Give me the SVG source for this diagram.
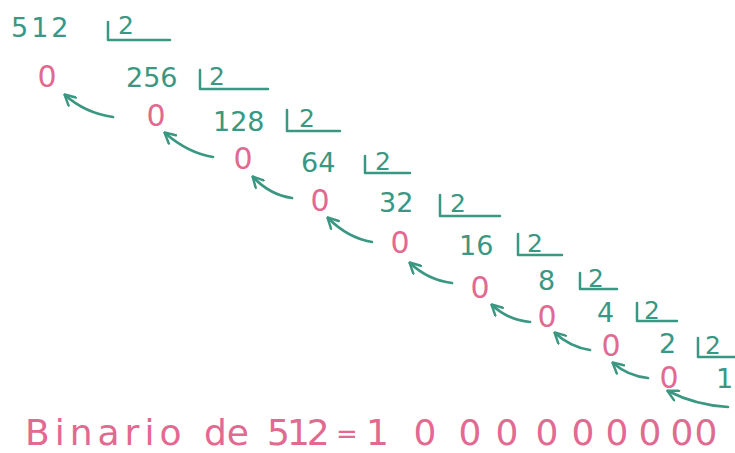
<svg xmlns="http://www.w3.org/2000/svg" width="735" height="453" viewBox="0 0 735 453">
<style>
.num{font-family:"DejaVu Sans","Liberation Sans",sans-serif;font-size:27px;fill:#3a9782}
.div{font-family:"DejaVu Sans","Liberation Sans",sans-serif;font-size:25px;fill:#3a9782}
.rem{font-family:"DejaVu Sans","Liberation Sans",sans-serif;font-size:30px;fill:#e2698f;text-anchor:middle}
.res{font-family:"DejaVu Sans","Liberation Sans",sans-serif;font-size:36px;fill:#e2698f}
.eq{font-family:"DejaVu Sans","Liberation Sans",sans-serif;font-size:26px;fill:#e2698f}
.br{fill:none;stroke:#3a9782;stroke-width:2.5;stroke-linecap:round;stroke-linejoin:round}
.arr{fill:none;stroke:#3a9782;stroke-width:2.7;stroke-linecap:round}
</style>
<defs>
<marker id="ah" viewBox="0 0 10 10" refX="8.5" refY="5" markerWidth="13" markerHeight="13" markerUnits="userSpaceOnUse" orient="auto">
<path d="M1,0.8 L9,5 L1,9.2" fill="none" stroke="#3a9782" stroke-width="1.9" stroke-linecap="round" stroke-linejoin="round"/>
</marker>
</defs>
<rect width="735" height="453" fill="#ffffff"/>

<g id="row-512"><text class="num" x="11" y="37" letter-spacing="3">512</text><path class="br" d="M108,22 L108,40 L170,40"/><text class="div" x="118" y="34">2</text></g>
<g id="row-256"><text class="num" x="126" y="87">256</text><path class="br" d="M200,70 L200,89 L268,89"/><text class="div" x="209" y="85">2</text></g>
<g id="row-128"><text class="num" x="213" y="131">128</text><path class="br" d="M287,110 L287,131 L340,131"/><text class="div" x="299" y="127">2</text></g>
<g id="row-64"><text class="num" x="301" y="172">64</text><path class="br" d="M365,156 L365,173 L410,173"/><text class="div" x="375" y="170">2</text></g>
<g id="row-32"><text class="num" x="379" y="212">32</text><path class="br" d="M440,195 L440,216 L500,216"/><text class="div" x="450" y="212">2</text></g>
<g id="row-16"><text class="num" x="459" y="255">16</text><path class="br" d="M518,234 L518,255 L562,255"/><text class="div" x="527" y="252">2</text></g>
<g id="row-8"><text class="num" x="538" y="290">8</text><path class="br" d="M580,273 L580,289 L617,289"/><text class="div" x="588" y="287">2</text></g>
<g id="row-4"><text class="num" x="597" y="322">4</text><path class="br" d="M637,303 L637,321 L677,321"/><text class="div" x="644" y="319">2</text></g>
<g id="row-2"><text class="num" x="659" y="353">2</text><path class="br" d="M698,338 L698,357 L737,357"/><text class="div" x="705" y="354">2</text></g>
<g id="row-1"><text class="num" x="716" y="388">1</text></g>

<g id="r1"><text class="rem" x="47" y="87">0</text></g>
<g id="r2"><text class="rem" x="156" y="126">0</text></g>
<g id="r3"><text class="rem" x="243" y="169">0</text></g>
<g id="r4"><text class="rem" x="320" y="211">0</text></g>
<g id="r5"><text class="rem" x="400" y="253">0</text></g>
<g id="r6"><text class="rem" x="480" y="298">0</text></g>
<g id="r7"><text class="rem" x="547" y="327">0</text></g>
<g id="r8"><text class="rem" x="611" y="356">0</text></g>
<g id="r9"><text class="rem" x="669" y="388">0</text></g>

<g id="connectors">
<path class="arr" marker-end="url(#ah)" d="M113,117 Q85,113 65,95"/>
<path class="arr" marker-end="url(#ah)" d="M213,157 Q188,153 165,133"/>
<path class="arr" marker-end="url(#ah)" d="M292,198 Q270,195 253,177"/>
<path class="arr" marker-end="url(#ah)" d="M372,242 Q348,238 328,218"/>
<path class="arr" marker-end="url(#ah)" d="M452,283 Q428,280 410,263"/>
<path class="arr" marker-end="url(#ah)" d="M530,322 Q508,320 492,305"/>
<path class="arr" marker-end="url(#ah)" d="M590,350 Q570,347 555,333"/>
<path class="arr" marker-end="url(#ah)" d="M648,378 Q628,376 613,363"/>
<path class="arr" marker-end="url(#ah)" d="M728,407 Q695,405 668,391"/>
</g>

<g id="result">
<text class="res" x="25" y="445" letter-spacing="5">Binario</text>
<text class="res" x="204" y="445">de</text>
<text class="res" x="267" y="445" letter-spacing="-3">512</text>
<text class="eq" x="336" y="443">=</text>
<text class="res" x="366" y="445">1</text>
<text class="res" text-anchor="middle" x="425 470 507 547 583 617 650 682 706" y="445">000000000</text>
</g>
</svg>
